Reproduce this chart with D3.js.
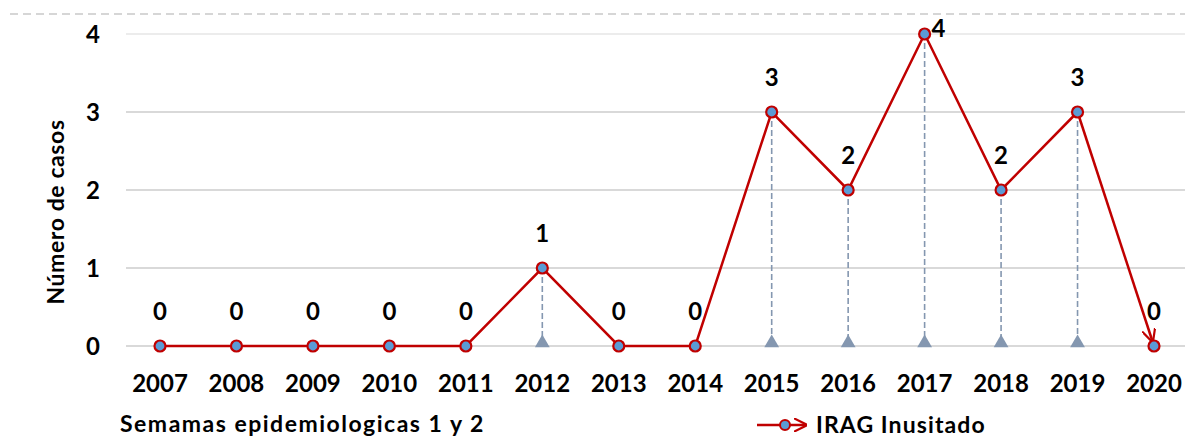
<!DOCTYPE html>
<html>
<head>
<meta charset="utf-8">
<script src="https://d3js.org/d3.v7.min.js"></script>
<style>
  body { margin: 0; background: #fff; font-family: Lato, "Open Sans", sans-serif; }
  .grid line { stroke: #d9d9d9; stroke-width: 2px; }
  text { font-weight: bold; fill: #000; }
</style>
</head>
<body>
<div id="chart"></div>
<script>
const years = ["2007","2008","2009","2010","2011","2012","2013","2014","2015","2016","2017","2018","2019","2020"];
const cases = [0, 0, 0, 0, 0, 1, 0, 0, 3, 2, 4, 2, 3, 0];
const yTicks = [0, 1, 2, 3, 4];

const width = 1185, height = 437;

const svg = d3.select("#chart").append("svg")
    .attr("width", width)
    .attr("height", height);

const x = d3.scalePoint().domain(years).range([160, 1154]);
const y = d3.scaleLinear().domain([0, 4]).range([346, 34]);

// top dashed border
svg.append("line")
    .attr("x1", 10).attr("x2", width)
    .attr("y1", 14).attr("y2", 14)
    .attr("stroke", "#d6d6d6").attr("stroke-width", 2)
    .attr("stroke-dasharray", "8,5");

// gridlines
svg.append("g").attr("class", "grid")
    .selectAll("line").data(yTicks).enter().append("line")
    .attr("x1", 126).attr("x2", width)
    .attr("y1", d => y(d)).attr("y2", d => y(d))
    .style("stroke", d => d === 4 ? "#ececec" : null);

// y tick labels
svg.append("g").selectAll("text").data(yTicks).enter().append("text")
    .attr("x", 100).attr("y", d => y(d)).attr("dy", "0.36em")
    .attr("text-anchor", "end")
    .style("font-size", "24px")
    .text(d => d);

// y title
svg.append("text")
    .attr("transform", "translate(64,212) rotate(-90)")
    .attr("text-anchor", "middle")
    .style("font-size", "23px")
    .style("letter-spacing", "0.6px")
    .text("Número de casos");

// x tick labels
svg.append("g").selectAll("text").data(years).enter().append("text")
    .attr("x", d => x(d)).attr("y", 392)
    .attr("text-anchor", "middle")
    .style("font-size", "24px")
    .text(d => d);

// x title
svg.append("text")
    .attr("x", 120).attr("y", 432)
    .style("font-size", "23px")
    .style("letter-spacing", "1.5px")
    .text("Semamas epidemiologicas 1 y 2");

const data = years.map((yr, i) => ({ year: yr, value: cases[i] }));

// arrow marker
const defs = svg.append("defs");
defs.append("marker")
    .attr("id", "arrow")
    .attr("viewBox", "0 0 10 10")
    .attr("refX", 9).attr("refY", 5)
    .attr("markerWidth", 5.5).attr("markerHeight", 5.5)
    .attr("markerUnits", "strokeWidth")
    .attr("orient", "auto")
    .append("path")
    .attr("d", "M0,0 L10,5 L0,10")
    .attr("fill", "none")
    .attr("stroke", "#c00000")
    .attr("stroke-width", 1.6);

// drop lines
const drops = data.filter(d => d.value > 0);
svg.append("g").selectAll("line").data(drops).enter().append("line")
    .attr("x1", d => x(d.year)).attr("x2", d => x(d.year))
    .attr("y1", d => y(d.value)).attr("y2", y(0))
    .attr("stroke", "#8497b0").attr("stroke-width", 1.6)
    .attr("stroke-dasharray", "6,3");
svg.append("g").selectAll("path").data(drops).enter().append("path")
    .attr("d", d3.symbol().type(d3.symbolTriangle).size(95))
    .attr("transform", d => `translate(${x(d.year)},${y(0) - 3})`)
    .attr("fill", "#8497b0");

// main line
const line = d3.line().x(d => x(d.year)).y(d => y(d.value));
svg.append("path")
    .datum(data.slice(0, data.length - 1))
    .attr("d", line)
    .attr("fill", "none")
    .attr("stroke", "#c00000")
    .attr("stroke-width", 2.5);

// last segment with arrow
const last = data.slice(data.length - 2);
const p0 = [x(last[0].year), y(last[0].value)];
const p1 = [x(last[1].year), y(last[1].value)];
const dx = p1[0] - p0[0], dy = p1[1] - p0[1];
const len = Math.hypot(dx, dy);
svg.append("line")
    .attr("x1", p0[0]).attr("y1", p0[1])
    .attr("x2", p1[0] - dx / len * 5).attr("y2", p1[1] - dy / len * 5)
    .attr("stroke", "#c00000").attr("stroke-width", 2.5)
    .attr("marker-end", "url(#arrow)");

// markers
svg.append("g").selectAll("circle").data(data).enter().append("circle")
    .attr("cx", d => x(d.year)).attr("cy", d => y(d.value))
    .attr("r", 5.5)
    .attr("fill", "#5b9bd5")
    .attr("stroke", "#c00000").attr("stroke-width", 2.2);

// data labels
svg.append("g").selectAll("text").data(data).enter().append("text")
    .attr("x", d => d.year === "2017" ? x(d.year) + 7 : x(d.year))
    .attr("y", d => d.year === "2017" ? y(d.value) + 3 : y(d.value) - 26)
    .attr("text-anchor", d => d.year === "2017" ? "start" : "middle")
    .style("font-size", "24px")
    .text(d => d.value);

// legend
const lg = svg.append("g").attr("transform", "translate(0,425)");
lg.append("line")
    .attr("x1", 757).attr("x2", 806).attr("y1", 0).attr("y2", 0)
    .attr("stroke", "#c00000").attr("stroke-width", 2.5)
    .attr("marker-end", "url(#arrow)");
lg.append("circle")
    .attr("cx", 785).attr("cy", 0).attr("r", 5)
    .attr("fill", "#5b9bd5")
    .attr("stroke", "#c00000").attr("stroke-width", 2);
lg.append("text")
    .attr("x", 816).attr("y", 0).attr("dy", "0.36em")
    .style("font-size", "23px")
    .style("letter-spacing", "1.1px")
    .text("IRAG Inusitado");
</script>
</body>
</html>
